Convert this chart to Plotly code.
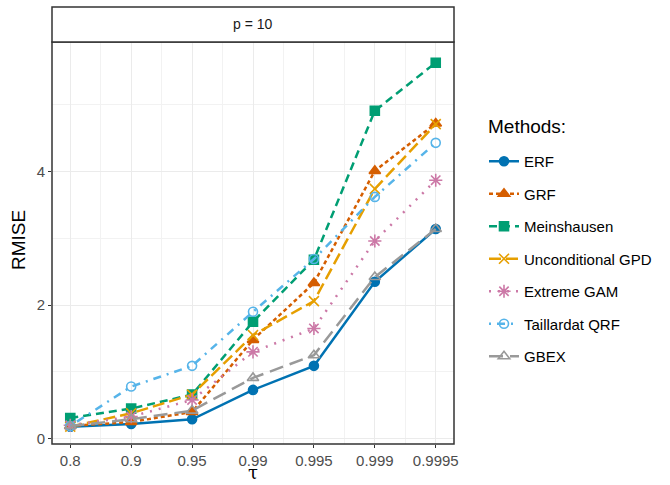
import plotly.graph_objects as go

tau_labels = ["0.8", "0.9", "0.95", "0.99", "0.995", "0.999", "0.9995"]
x_pos = [1, 2, 3, 4, 5, 6, 7]

methods = ["ERF", "GRF", "Meinshausen", "Unconditional GPD", "Extreme GAM", "Taillardat QRF", "GBEX"]
erf = [0.18, 0.22, 0.29, 0.73, 1.09, 2.35, 3.14]
grf = [0.19, 0.25, 0.40, 1.48, 2.33, 4.01, 4.72]
meins = [0.31, 0.45, 0.66, 1.75, 2.68, 4.91, 5.63]
ugpd = [0.18, 0.38, 0.66, 1.55, 2.06, 3.74, 4.71]
egam = [0.20, 0.33, 0.58, 1.30, 1.65, 2.96, 3.87]
tqrf = [0.19, 0.78, 1.09, 1.90, 2.69, 3.62, 4.43]
gbex = [0.19, 0.29, 0.42, 0.91, 1.25, 2.42, 3.14]

series = [erf, grf, meins, ugpd, egam, tqrf, gbex]
colors = ["#0072B2", "#D55E00", "#009E73", "#E69F00", "#CC79A7", "#56B4E9", "#999999"]
dashes = ["solid", "4px,3px", "8px,5px", "12px,5px", "2px,7px", "2px,6px,8px,6px", "14px,7px"]
symbols = ["circle", "triangle-up", "square", "x-thin", "asterisk", "circle-open", "triangle-up-open"]
sizes = [9, 10, 9, 10, 11, 9, 10]

W, H = 670, 485
ML, MT = 52, 42
PANEL_R, PANEL_B = 454, 444
MR, MB = W - PANEL_R, H - PANEL_B
PW, PH = W - ML - MR, H - MT - MB


def px_x(page_x):
    return (page_x - ML) / PW


def px_y(page_y):
    return (MT + PH - page_y) / PH


fig = go.Figure()
for i, (name, vals) in enumerate(zip(methods, series)):
    fig.add_trace(go.Scatter(
        x=x_pos, y=vals, name=name, mode="lines+markers",
        legendgroup=name,
        line=dict(color=colors[i], width=2.5, dash=dashes[i]),
        marker=dict(symbol=symbols[i], size=sizes[i], color=colors[i],
                    line=dict(color=colors[i], width=1.6)),
    ))

fig.update_layout(
    width=W, height=H,
    margin=dict(l=ML, r=MR, t=MT, b=MB, autoexpand=False),
    paper_bgcolor="white", plot_bgcolor="white",
    font=dict(family="Liberation Sans, Arial, sans-serif", color="#4d4d4d", size=15),
    showlegend=True,
    legend=dict(
        font=dict(size=15, color="black"),
        x=px_x(484), y=px_y(145), xanchor="left", yanchor="top",
        tracegroupgap=10, itemwidth=30,
        bgcolor="rgba(0,0,0,0)",
    ),
    xaxis=dict(
        automargin=False,
        range=[0.7, 7.3], tickvals=x_pos, ticktext=tau_labels,
        showgrid=True, gridcolor="#ebebeb", gridwidth=1,
        minor=dict(tick0=0.5, dtick=1, showgrid=True, gridcolor="#f2f2f2", gridwidth=0.8),
        zeroline=False, ticks="outside", ticklen=3, tickcolor="#333333",
        tickfont=dict(size=15, color="#4d4d4d"),
    ),
    yaxis=dict(
        automargin=False,
        range=[-0.08, 5.94], tickvals=[0, 2, 4],
        showgrid=True, gridcolor="#ebebeb", gridwidth=1,
        minor=dict(tickvals=[1, 3, 5], showgrid=True, gridcolor="#f2f2f2", gridwidth=0.8),
        zeroline=False, ticks="outside", ticklen=3, tickcolor="#333333",
        tickfont=dict(size=15, color="#4d4d4d"),
    ),
    shapes=[
        dict(type="rect", xref="paper", yref="paper", x0=0, x1=1, y0=0, y1=1,
             line=dict(color="#333333", width=1.5), fillcolor="rgba(0,0,0,0)", layer="above"),
        dict(type="rect", xref="paper", yref="paper", x0=0, x1=1, y0=1, y1=px_y(7),
             line=dict(color="#333333", width=1.5), fillcolor="white"),
    ],
    annotations=[
        dict(text="p = 10", xref="paper", yref="paper", x=0.5, y=px_y(24.5),
             showarrow=False, xanchor="center", yanchor="middle",
             font=dict(size=14, color="#1a1a1a")),
        dict(text="RMISE", xref="paper", yref="paper", x=px_x(18), y=px_y(240),
             showarrow=False, xanchor="center", yanchor="middle", textangle=-90,
             font=dict(size=19, color="black")),
        dict(text="τ", xref="paper", yref="paper", x=px_x(253), y=px_y(484.5),
             showarrow=False, xanchor="center", yanchor="bottom",
             font=dict(size=18, color="black", family="DejaVu Serif, serif")),
        dict(text="Methods:", xref="paper", yref="paper", x=px_x(486), y=px_y(127),
             showarrow=False, xanchor="left", yanchor="middle",
             font=dict(size=19, color="black")),
    ],
)

fig.write_html("out.html", config={"displayModeBar": False},
               post_script="document.body.style.margin='0px';")
